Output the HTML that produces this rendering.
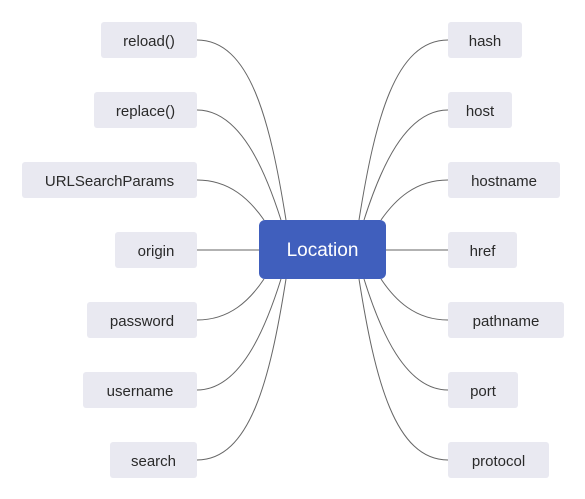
<!DOCTYPE html>
<html><head><style>
body{margin:0;width:585px;height:499px;background:#fff;overflow:hidden;position:relative;font-family:"Liberation Sans","DejaVu Sans",sans-serif}
.n{position:absolute;height:36px;line-height:39px;background:#e9e9f1;border-radius:3px;color:#2a2a2a;font-size:15px;text-align:center;overflow:hidden}
.c{position:absolute;left:259px;top:220px;width:127px;height:59px;background:#405fbd;border-radius:6px;color:#fff;font-size:19px;line-height:61px;text-align:center}
svg{position:absolute;left:0;top:0}
</style></head><body>
<svg width="585" height="499" fill="none" stroke="#666" stroke-width="1">
<path d="M197,40 C250,40 270,120 286,220"/>
<path d="M197,110 C240,110 265,170 281,220"/>
<path d="M197,180 C230,180 250,200 264,220"/>
<path d="M197,250 L259,250"/>
<path d="M197,320 C230,320 250,300 264,279"/>
<path d="M197,390 C240,390 265,330 281,279"/>
<path d="M197,460 C250,460 270,380 286,279"/>
<path d="M448,40 C395,40 375,120 359,220"/>
<path d="M448,110 C405,110 380,170 364,220"/>
<path d="M448,180 C415,180 395,200 381,220"/>
<path d="M386,250 L448,250"/>
<path d="M448,320 C415,320 395,300 381,279"/>
<path d="M448,390 C405,390 380,330 364,279"/>
<path d="M448,460 C395,460 375,380 359,279"/>
</svg>
<div class="n" style="left:101px;top:22px;width:96px">reload()</div>
<div class="n" style="left:94px;top:92px;width:103px">replace()</div>
<div class="n" style="left:22px;top:162px;width:175px">URLSearchParams</div>
<div class="n" style="left:115px;top:232px;width:82px">origin</div>
<div class="n" style="left:87px;top:302px;width:110px">password</div>
<div class="n" style="left:83px;top:372px;width:114px">username</div>
<div class="n" style="left:110px;top:442px;width:87px">search</div>
<div class="n" style="left:448px;top:22px;width:74px">hash</div>
<div class="n" style="left:448px;top:92px;width:64px">host</div>
<div class="n" style="left:448px;top:162px;width:112px">hostname</div>
<div class="n" style="left:448px;top:232px;width:69px">href</div>
<div class="n" style="left:448px;top:302px;width:116px">pathname</div>
<div class="n" style="left:448px;top:372px;width:70px">port</div>
<div class="n" style="left:448px;top:442px;width:101px">protocol</div>
<div class="c">Location</div>
</body></html>
